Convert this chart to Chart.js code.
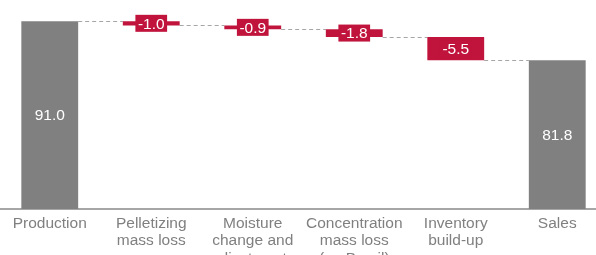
<!DOCTYPE html>
<html lang="en">
<head>
    <meta charset="UTF-8">
    <title>Waterfall</title>
    <style>
      html, body { margin: 0; padding: 0; overflow: hidden; background: #fff; }
      #wrap { position: absolute; left: -1px; top: 0; width: 609px; height: 275px; }
    </style>
</head>
<body>
<div id="wrap"><canvas id="waterfallChart"></canvas></div>

<script src="https://cdn.jsdelivr.net/npm/chart.js@4.4.0/dist/chart.umd.min.js"></script>

<script>
  const CATEGORIES = [
    'Production',
    ['Pelletizing', 'mass loss'],
    ['Moisture', 'change and', 'adjustments'],
    ['Concentration', 'mass loss', '(ex-Brazil)'],
    ['Inventory', 'build-up'],
    'Sales'
  ];
  const VALUES = [91.0, -1.0, -0.9, -1.8, -5.5, 81.8];
  const IS_TOTAL = [true, false, false, false, false, true];

  const GREY = '#808080';
  const RED = '#c0143c';
  const LINE = '#a6a6a6';
  const FONT = '"Liberation Sans", Arial, sans-serif';

  // floating bars: totals from axis floor, deltas from running level
  const FLOOR = 46.7;
  let level = 0;
  const ranges = VALUES.map((v, i) => {
    if (IS_TOTAL[i]) {
      level = v;
      return [FLOOR, v];
    }
    const start = level;
    level = level + v;
    return [start, level];
  });

  const connectors = {
    id: 'connectors',
    beforeDatasetsDraw(chart) {
      const meta = chart.getDatasetMeta(0);
      const y = chart.scales.y;
      const ctx = chart.ctx;
      ctx.save();
      ctx.strokeStyle = LINE;
      ctx.lineWidth = 1;
      ctx.setLineDash([4, 3]);
      for (let i = 0; i < meta.data.length - 1; i++) {
        const a = meta.data[i];
        const b = meta.data[i + 1];
        const py = Math.round(y.getPixelForValue(ranges[i][1])) + 0.5;
        ctx.beginPath();
        ctx.moveTo(a.x + a.width / 2, py);
        ctx.lineTo(b.x - b.width / 2, py);
        ctx.stroke();
      }
      ctx.restore();
    }
  };

  const valueLabels = {
    id: 'valueLabels',
    afterDatasetsDraw(chart) {
      const meta = chart.getDatasetMeta(0);
      const y = chart.scales.y;
      const ctx = chart.ctx;
      ctx.save();
      ctx.font = '15.5px ' + FONT;
      ctx.textAlign = 'center';
      ctx.textBaseline = 'middle';
      meta.data.forEach((bar, i) => {
        const r = ranges[i];
        const cy = (y.getPixelForValue(r[0]) + y.getPixelForValue(r[1])) / 2;
        const text = VALUES[i].toFixed(1);
        if (!IS_TOTAL[i]) {
          const w = ctx.measureText(text).width + 5;
          ctx.fillStyle = RED;
          ctx.fillRect(bar.x - w / 2, cy - 8.5, w, 17);
        }
        ctx.fillStyle = '#ffffff';
        ctx.fillText(text, bar.x, cy + 1);
      });
      ctx.restore();
    }
  };

  new Chart(document.getElementById('waterfallChart'), {
    type: 'bar',
    data: {
      labels: CATEGORIES,
      datasets: [{
        data: ranges,
        backgroundColor: IS_TOTAL.map(t => t ? GREY : RED),
        borderWidth: 0,
        borderSkipped: false,
        categoryPercentage: 1,
        barPercentage: 0.56
      }]
    },
    options: {
      responsive: true,
      maintainAspectRatio: false,
      animation: false,
      layout: { padding: 0 },
      plugins: {
        legend: { display: false },
        tooltip: { enabled: false }
      },
      scales: {
        x: {
          grid: { display: false, drawTicks: false },
          border: { display: true, color: LINE, width: 2 },
          ticks: {
            color: GREY,
            font: { family: FONT, size: 15.5, lineHeight: 1.12 },
            padding: 6,
            maxRotation: 0,
            autoSkip: false
          },
          afterFit(scale) { scale.height = 66; }
        },
        y: {
          display: false,
          min: FLOOR,
          max: 96
        }
      }
    },
    plugins: [connectors, valueLabels]
  });
</script>
</body>
</html>
